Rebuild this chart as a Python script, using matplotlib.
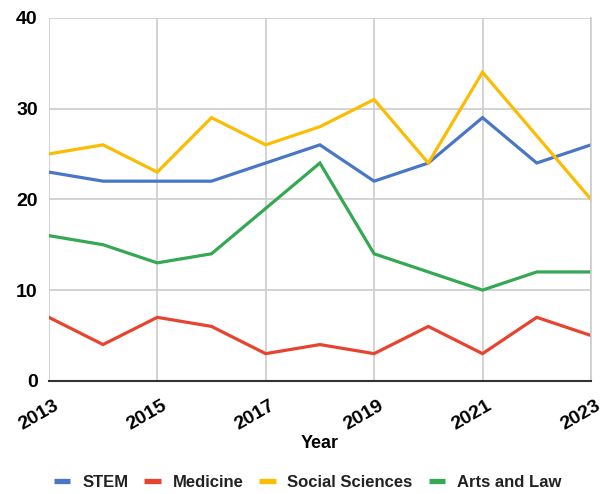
import matplotlib.pyplot as plt
from matplotlib.transforms import ScaledTranslation

plt.rcParams['font.family'] = ['Liberation Sans', 'DejaVu Sans']

years = [2013, 2014, 2015, 2016, 2017, 2018, 2019, 2020, 2021, 2022, 2023]
stem = [23, 22, 22, 22, 24, 26, 22, 24, 29, 24, 26]
medicine = [7, 4, 7, 6, 3, 4, 3, 6, 3, 7, 5]
social = [25, 26, 23, 29, 26, 28, 31, 24, 34, 27, 20]
arts = [16, 15, 13, 14, 19, 24, 14, 12, 10, 12, 12]

names = ['STEM', 'Medicine', 'Social Sciences', 'Arts and Law']
colors = ['#4a76c6', '#e8432f', '#fbbc04', '#34a853']

fig = plt.figure(figsize=(6.03, 4.94), dpi=100)
ax = fig.add_axes([0.081, 0.229, 0.899, 0.735])

for vals, name, c in zip([stem, medicine, social, arts], names, colors):
    ax.plot(years, vals, color=c, lw=2.3, label=name, solid_joinstyle='miter')

ax.set_xlim(2013, 2023)
ax.set_ylim(0, 40)
ax.set_yticks([0, 10, 20, 30, 40])
ax.set_xticks([2013, 2015, 2017, 2019, 2021, 2023])
ax.grid(True, color='#cccccc', lw=1.2)
ax.set_axisbelow(True)
for s in ['top', 'left']:
    ax.spines[s].set_visible(False)
ax.spines['right'].set_color('#cccccc')
ax.spines['right'].set_linewidth(1.2)
ax.spines['bottom'].set_color('#333333')
ax.spines['bottom'].set_linewidth(1.5)
ax.tick_params(axis='y', length=0, pad=8)
ax.tick_params(axis='x', length=0, pad=11.5)
for lbl in ax.get_yticklabels():
    lbl.set_fontsize(14)
    lbl.set_fontweight('bold')
shift = ScaledTranslation(4 / 100, 0, fig.dpi_scale_trans)
for lbl in ax.get_xticklabels():
    lbl.set_fontsize(14)
    lbl.set_fontweight('bold')
    lbl.set_rotation(30)
    lbl.set_ha('right')
    lbl.set_rotation_mode('anchor')
    lbl.set_transform(lbl.get_transform() + shift)

ax.set_xlabel('Year', fontsize=13, fontweight='bold', labelpad=1)

leg = fig.legend(loc='center', bbox_to_anchor=(307.5 / 603, 1 - 482 / 494), ncol=4, frameon=False,
                 handlelength=1.0, handletextpad=0.7, columnspacing=0.95,
                 borderpad=0, borderaxespad=0,
                 prop={'weight': 'bold', 'size': 12})
for t in leg.get_texts():
    t.set_color('#222222')
for h in leg.get_lines():
    h.set_linewidth(3.8)
    h.set_solid_capstyle('butt')

fig.savefig('out.png', dpi=100)
